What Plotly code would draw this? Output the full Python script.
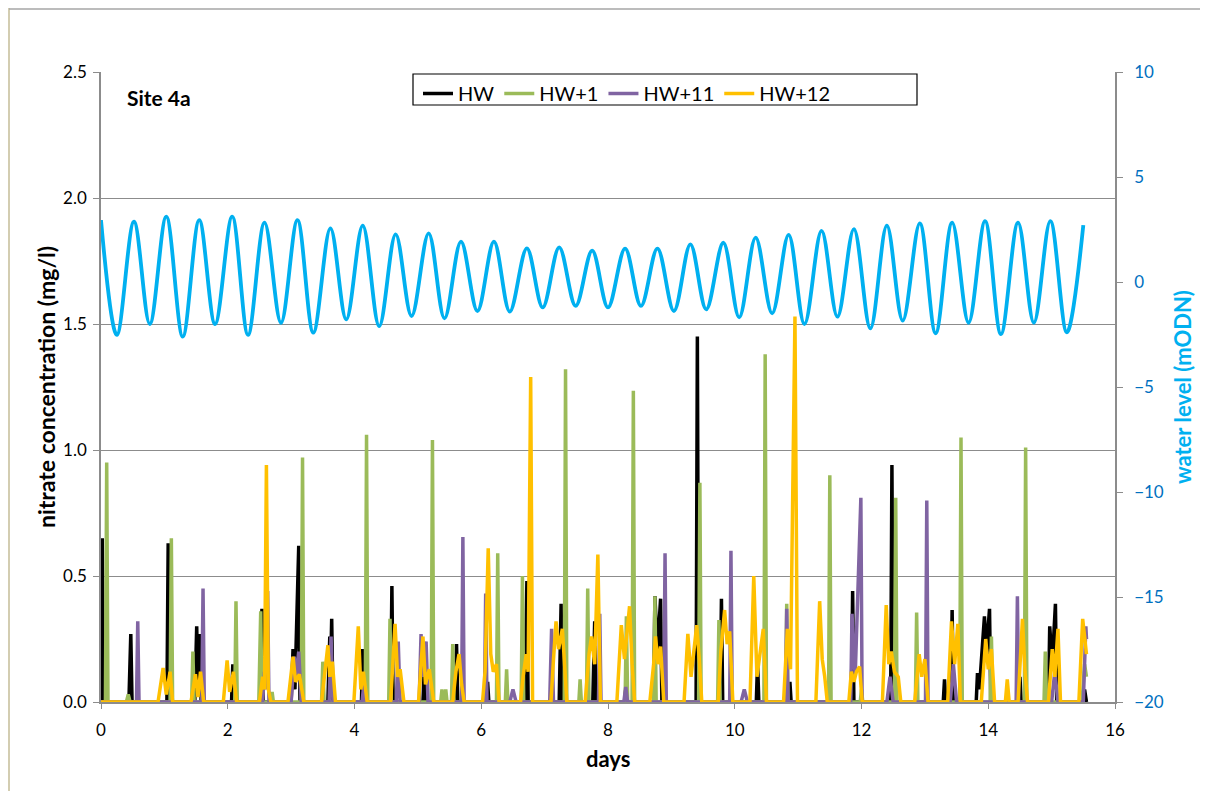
import plotly.graph_objects as go

# ---------------- data ----------------
# water level (mODN): high-water and low-water extremes
wl_high_t = [0.00, 0.52, 1.03, 1.55, 2.07, 2.58, 3.10, 3.62, 4.13, 4.65, 5.17, 5.68, 6.20, 6.72, 7.23,
             7.75, 8.27, 8.78, 9.30, 9.82, 10.33, 10.85, 11.37, 11.88, 12.40, 12.92, 13.43, 13.95,
             14.47, 14.98, 15.50]
wl_high_v = [2.95, 2.87, 3.11, 2.95, 3.11, 2.83, 2.95, 2.55, 2.68, 2.27, 2.32, 1.92, 1.92, 1.60, 1.65,
             1.49, 1.59, 1.59, 1.79, 1.87, 2.11, 2.24, 2.43, 2.52, 2.68, 2.79, 2.83, 2.90,
             2.83, 2.90, 2.71]
wl_low_t = [0.25, 0.77, 1.29, 1.80, 2.32, 2.84, 3.35, 3.87, 4.39, 4.90, 5.42, 5.94, 6.45, 6.97, 7.49,
            8.00, 8.52, 9.04, 9.55, 10.07, 10.59, 11.10, 11.62, 12.14, 12.65, 13.17, 13.69, 14.20,
            14.72, 15.24]
wl_low_v = [-2.52, -2.00, -2.60, -2.00, -2.52, -1.94, -2.41, -1.78, -2.10, -1.62, -1.73, -1.38, -1.41,
            -1.21, -1.14, -1.21, -1.14, -1.38, -1.30, -1.68, -1.49, -2.00, -1.65, -2.21, -1.84,
            -2.44, -1.94, -2.48, -1.94, -2.40]

# nitrate concentration (mg/l): (day, value) samples
hw_pts = [(0.00, 0), (0.02, 0.65), (0.035, 0),
          (0.44, 0), (0.47, 0.27), (0.49, 0),
          (1.04, 0), (1.06, 0.63), (1.08, 0),
          (1.48, 0), (1.51, 0.30), (1.53, 0.05), (1.56, 0.27), (1.58, 0),
          (2.06, 0), (2.08, 0.15), (2.10, 0),
          (2.51, 0), (2.54, 0.37), (2.56, 0),
          (3.00, 0), (3.03, 0.21), (3.06, 0.05), (3.12, 0.62), (3.14, 0),
          (3.58, 0), (3.61, 0.26), (3.625, 0.15), (3.64, 0.33), (3.66, 0),
          (4.11, 0), (4.13, 0.21), (4.15, 0),
          (4.57, 0), (4.59, 0.46), (4.61, 0),
          (5.08, 0), (5.10, 0.12), (5.12, 0),
          (5.59, 0), (5.61, 0.23), (5.63, 0),
          (6.08, 0), (6.10, 0.08), (6.12, 0),
          (6.69, 0), (6.72, 0.48), (6.74, 0),
          (7.23, 0), (7.26, 0.39), (7.28, 0),
          (7.76, 0), (7.79, 0.32), (7.81, 0),
          (8.26, 0), (8.28, 0.05), (8.30, 0),
          (8.72, 0), (8.74, 0.42), (8.78, 0.20), (8.83, 0.41), (8.85, 0),
          (9.39, 0), (9.41, 1.45), (9.43, 0),
          (9.77, 0), (9.79, 0.41), (9.81, 0),
          (10.34, 0), (10.36, 0.16), (10.38, 0),
          (10.85, 0), (10.87, 0.08), (10.89, 0),
          (11.84, 0), (11.86, 0.44), (11.88, 0),
          (12.46, 0), (12.48, 0.94), (12.50, 0),
          (13.29, 0), (13.31, 0.09), (13.33, 0), (13.41, 0), (13.43, 0.365), (13.45, 0),
          (13.81, 0), (13.83, 0.115), (13.86, 0.05), (13.94, 0.34), (13.97, 0.20), (14.02, 0.37), (14.04, 0),
          (14.48, 0), (14.50, 0.10), (14.52, 0),
          (14.95, 0), (14.97, 0.30), (15.01, 0.15), (15.06, 0.39), (15.08, 0),
          (15.50, 0), (15.52, 0.05), (15.55, 0)]

hw1_pts = [(0.00, 0), (0.07, 0), (0.09, 0.95), (0.11, 0),
           (0.40, 0), (0.43, 0.03), (0.46, 0),
           (1.09, 0), (1.11, 0.65), (1.13, 0),
           (1.43, 0), (1.45, 0.20), (1.47, 0),
           (2.11, 0), (2.13, 0.40), (2.15, 0),
           (2.49, 0), (2.52, 0.36), (2.54, 0),
           (2.68, 0), (2.70, 0.04), (2.72, 0),
           (3.16, 0), (3.18, 0.97), (3.20, 0),
           (3.48, 0), (3.50, 0.16), (3.52, 0),
           (4.17, 0), (4.19, 1.06), (4.21, 0),
           (4.54, 0), (4.56, 0.33), (4.58, 0),
           (5.21, 0), (5.23, 1.04), (5.25, 0),
           (5.36, 0), (5.38, 0.05), (5.40, 0), (5.42, 0), (5.44, 0.05), (5.46, 0),
           (5.53, 0), (5.55, 0.23), (5.57, 0),
           (6.24, 0), (6.26, 0.59), (6.28, 0),
           (6.38, 0), (6.40, 0.13), (6.42, 0),
           (6.63, 0), (6.65, 0.50), (6.67, 0),
           (7.31, 0), (7.33, 1.32), (7.35, 0),
           (7.54, 0), (7.56, 0.09), (7.58, 0),
           (7.66, 0), (7.68, 0.45), (7.70, 0),
           (8.27, 0), (8.29, 0.34), (8.31, 0),
           (8.38, 0), (8.40, 1.235), (8.42, 0),
           (8.72, 0), (8.74, 0.42), (8.76, 0),
           (9.43, 0), (9.45, 0.87), (9.47, 0),
           (9.73, 0), (9.75, 0.325), (9.77, 0),
           (10.46, 0), (10.48, 1.38), (10.50, 0),
           (10.80, 0), (10.82, 0.39), (10.84, 0),
           (11.48, 0), (11.50, 0.90), (11.52, 0),
           (11.98, 0), (12.00, 0.05), (12.02, 0),
           (12.52, 0), (12.54, 0.81), (12.56, 0),
           (12.85, 0), (12.87, 0.355), (12.89, 0),
           (13.55, 0), (13.57, 1.05), (13.59, 0),
           (14.03, 0), (14.05, 0.26), (14.07, 0),
           (14.57, 0), (14.59, 1.01), (14.61, 0),
           (14.88, 0), (14.90, 0.20), (14.92, 0),
           (15.48, 0), (15.52, 0.15), (15.55, 0.10)]

hw11_pts = [(0.00, 0), (0.56, 0), (0.58, 0.32), (0.60, 0),
            (1.59, 0), (1.61, 0.45), (1.63, 0),
            (2.55, 0), (2.58, 0.12), (2.61, 0.05), (2.63, 0.44), (2.65, 0),
            (3.00, 0), (3.05, 0.18), (3.08, 0.10), (3.12, 0.20), (3.16, 0),
            (3.60, 0), (3.63, 0.26), (3.66, 0),
            (4.12, 0), (4.15, 0.08), (4.18, 0),
            (4.66, 0), (4.69, 0.24), (4.72, 0),
            (5.02, 0), (5.05, 0.27), (5.08, 0.10), (5.13, 0.24), (5.16, 0),
            (5.69, 0), (5.71, 0.655), (5.73, 0),
            (6.05, 0), (6.07, 0.43), (6.09, 0),
            (6.45, 0), (6.50, 0.05), (6.55, 0),
            (7.08, 0), (7.11, 0.29), (7.14, 0),
            (7.85, 0), (7.87, 0.35), (7.89, 0),
            (8.25, 0), (8.28, 0.06), (8.31, 0),
            (8.88, 0), (8.90, 0.59), (8.92, 0),
            (9.92, 0), (9.94, 0.60), (9.96, 0),
            (10.10, 0), (10.15, 0.05), (10.20, 0),
            (10.80, 0), (10.82, 0.37), (10.84, 0),
            (11.83, 0), (11.85, 0.35), (11.90, 0.10), (11.99, 0.81), (12.01, 0),
            (12.40, 0), (12.45, 0.10), (12.50, 0),
            (13.01, 0), (13.03, 0.80), (13.05, 0),
            (13.40, 0), (13.45, 0.15), (13.50, 0),
            (14.44, 0), (14.46, 0.42), (14.48, 0),
            (15.00, 0), (15.05, 0.12), (15.10, 0),
            (15.50, 0), (15.54, 0.30), (15.55, 0.25)]

hw12_pts = [(0.00, 0), (0.90, 0), (0.98, 0.135), (1.03, 0.03), (1.09, 0.12), (1.13, 0),
            (1.42, 0), (1.49, 0.11), (1.53, 0.02), (1.57, 0.12), (1.62, 0),
            (1.93, 0), (1.99, 0.165), (2.03, 0.04), (2.09, 0.12), (2.14, 0),
            (2.50, 0), (2.55, 0.10), (2.58, 0.05), (2.61, 0.94), (2.64, 0.05), (2.68, 0),
            (2.95, 0), (3.03, 0.18), (3.07, 0.08), (3.13, 0.11), (3.20, 0),
            (3.48, 0), (3.58, 0.225), (3.61, 0.10), (3.65, 0.16), (3.70, 0),
            (3.99, 0), (4.06, 0.30), (4.10, 0.05), (4.14, 0.12), (4.20, 0),
            (4.57, 0), (4.64, 0.31), (4.68, 0.10), (4.72, 0.13), (4.78, 0),
            (5.01, 0), (5.08, 0.26), (5.12, 0.07), (5.18, 0.13), (5.25, 0),
            (5.55, 0), (5.60, 0.12), (5.65, 0.19), (5.69, 0.07), (5.73, 0),
            (6.02, 0), (6.06, 0.12), (6.11, 0.61), (6.15, 0.19), (6.19, 0.12), (6.24, 0.15), (6.28, 0),
            (6.62, 0), (6.66, 0.10), (6.71, 0.19), (6.74, 0.12), (6.78, 1.29), (6.81, 0),
            (7.10, 0), (7.14, 0.17), (7.18, 0.32), (7.22, 0.21), (7.28, 0.29), (7.31, 0.17), (7.35, 0),
            (7.64, 0), (7.70, 0.19), (7.74, 0.26), (7.79, 0.15), (7.84, 0.585), (7.88, 0),
            (8.14, 0), (8.21, 0.305), (8.26, 0.17), (8.34, 0.38), (8.38, 0.15), (8.42, 0),
            (8.66, 0), (8.72, 0.15), (8.75, 0.26), (8.79, 0.15), (8.83, 0.22), (8.88, 0),
            (9.20, 0), (9.26, 0.27), (9.31, 0.10), (9.40, 0.305), (9.44, 0.17), (9.48, 0),
            (9.74, 0), (9.78, 0.20), (9.84, 0.365), (9.88, 0.23), (9.92, 0.28), (9.97, 0),
            (10.24, 0), (10.30, 0.50), (10.35, 0.10), (10.45, 0.29), (10.50, 0),
            (10.77, 0), (10.83, 0.29), (10.88, 0.13), (10.95, 1.53), (10.99, 0),
            (11.28, 0), (11.34, 0.40), (11.38, 0.17), (11.42, 0.10), (11.46, 0),
            (11.80, 0), (11.84, 0.12), (11.88, 0.08), (11.92, 0.12), (11.97, 0.14), (12.01, 0),
            (12.33, 0), (12.39, 0.385), (12.43, 0.15), (12.47, 0.20), (12.52, 0.12), (12.58, 0.10), (12.62, 0),
            (12.84, 0), (12.91, 0.19), (12.95, 0.10), (13.00, 0.17), (13.05, 0),
            (13.36, 0), (13.42, 0.32), (13.47, 0.15), (13.52, 0.31), (13.56, 0),
            (13.89, 0), (13.96, 0.25), (14.00, 0.13), (14.05, 0.21), (14.10, 0),
            (14.27, 0), (14.30, 0.09), (14.33, 0),
            (14.47, 0), (14.54, 0.33), (14.58, 0.12), (14.62, 0),
            (14.95, 0), (15.01, 0.21), (15.05, 0.10), (15.10, 0.29), (15.14, 0),
            (15.43, 0), (15.49, 0.33), (15.55, 0.19)]

series_names = ["HW", "HW+1", "HW+11", "HW+12"]
series_colors = ["#000000", "#9BBB59", "#8064A2", "#FFC000"]
series_pts = [hw_pts, hw1_pts, hw11_pts, hw12_pts]

x_ticks = [0, 2, 4, 6, 8, 10, 12, 14, 16]

# ---------------- figure ----------------
FONT = "Lato"
GRID = "#8C8C8C"
fig = go.Figure()

for name, color, pts in zip(series_names, series_colors, series_pts):
    fig.add_trace(go.Scatter(
        x=[p[0] for p in pts], y=[p[1] for p in pts], name=name, mode="lines",
        line=dict(color=color, width=3.5), yaxis="y"))

# interleave water-level extremes in time order
wl_t, wl_v = [], []
for i in range(len(wl_high_t)):
    wl_t.append(wl_high_t[i]); wl_v.append(wl_high_v[i])
    if i < len(wl_low_t):
        wl_t.append(wl_low_t[i]); wl_v.append(wl_low_v[i])

fig.add_trace(go.Scatter(
    x=wl_t, y=wl_v, name="water level", mode="lines", showlegend=False,
    line=dict(color="#00B0F0", width=3.8, shape="spline", smoothing=1.0), yaxis="y2"))

# page is rendered with an 8px body margin: figure origin sits at page (8, 8)
OFF = 8
W, H = 1208 - OFF, 791 - OFF
PL, PR, PT, PB = 101, 1115, 72, 702          # plot area in page pixels
L, T = PL - OFF, PT - OFF
R, B = W - (PR - OFF), H - (PB - OFF)
pw, ph = PR - PL, PB - PT

def px(x):
    return (x - PL) / pw

def py(y):
    return (PB - y) / ph

fig.update_layout(
    width=W, height=H,
    margin=dict(l=L, r=R, t=T, b=B, autoexpand=False),
    paper_bgcolor="white", plot_bgcolor="white",
    font=dict(family=FONT, size=16, color="black"),
    showlegend=True,
    legend=dict(orientation="h", x=px(418), y=py(74), xanchor="left", yanchor="top",
                bgcolor="rgba(0,0,0,0)", borderwidth=0,
                font=dict(family=FONT, size=20, color="black"),
                itemwidth=30, traceorder="normal"),
    xaxis=dict(range=[0, 16], tickvals=x_ticks, ticks="outside", ticklen=5, tickcolor=GRID,
               showline=True, linecolor=GRID, linewidth=1.5, showgrid=False, zeroline=False,
               ticklabelstandoff=7,
               tickfont=dict(family=FONT, size=17, color="black")),
    yaxis=dict(range=[0, 2.5], dtick=0.5, tickformat=".1f", ticks="outside", ticklen=6,
               tickcolor=GRID, showline=True, linecolor=GRID, linewidth=1.5,
               showgrid=True, gridcolor=GRID, gridwidth=1, zeroline=False,
               ticklabelstandoff=3,
               tickfont=dict(family=FONT, size=17, color="black")),
    yaxis2=dict(range=[-20, 10], dtick=5, overlaying="y", side="right", ticks="outside",
                ticklen=6, tickcolor=GRID, showline=True, linecolor=GRID, linewidth=1.5,
                showgrid=False, zeroline=False, ticklabelstandoff=8,
                tickfont=dict(family=FONT, size=17, color="#0070C0")),
    shapes=[
        dict(type="rect", xref="paper", yref="paper", x0=px(413), x1=px(917), y0=py(105), y1=py(74),
             line=dict(color="black", width=1.2), fillcolor="white", layer="above"),
        dict(type="line", xref="paper", yref="paper", x0=px(9), x1=px(9), y0=py(8), y1=py(791),
             line=dict(color="#C4BD97", width=1.5)),
        dict(type="line", xref="paper", yref="paper", x0=px(9), x1=px(1208), y0=py(9), y1=py(9),
             line=dict(color="#A6A6A6", width=1.5)),
    ],
    annotations=[
        dict(text="<b>Site 4a</b>", xref="paper", yref="paper", x=px(125), y=py(98),
             xanchor="left", yanchor="middle", showarrow=False,
             font=dict(family=FONT, size=21, color="black")),
        dict(text="<b>nitrate concentration (mg/l)</b>", xref="paper", yref="paper",
             x=px(46), y=py(387), textangle=-90, xanchor="center", yanchor="middle",
             showarrow=False, font=dict(family=FONT, size=23, color="black")),
        dict(text="<b>days</b>", xref="paper", yref="paper", x=px(608), y=py(759),
             xanchor="center", yanchor="middle", showarrow=False,
             font=dict(family=FONT, size=22, color="black")),
        dict(text="<b>water level (mODN)</b>", xref="paper", yref="paper",
             x=px(1182), y=py(387), textangle=-90, xanchor="center", yanchor="middle",
             showarrow=False, font=dict(family=FONT, size=22, color="#00B0F0")),
    ],
)

fig.write_html("out.html")
